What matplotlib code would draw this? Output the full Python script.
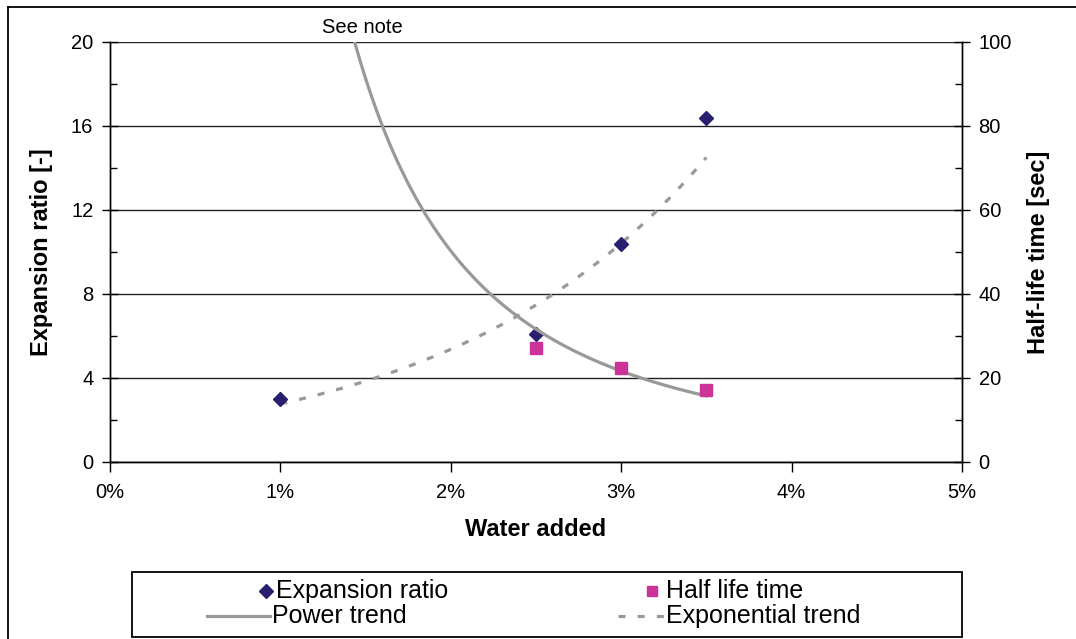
import numpy as np
import matplotlib
matplotlib.use("Agg")
import matplotlib.pyplot as plt
from matplotlib.ticker import PercentFormatter, MultipleLocator
from matplotlib.lines import Line2D
from matplotlib.patches import Rectangle

plt.rcParams['font.family'] = ['Liberation Sans', 'DejaVu Sans']

# water added (fraction) and measured values
water_added = [0.01, 0.025, 0.03, 0.035]
expansion_ratio = [3.0, 6.1, 10.4, 16.4]
# half-life at 1% is off the scale (see note), it is still used in the power trend
half_life = [220.0, 27.1, 22.4, 17.1]

x = np.array(water_added)
er = np.array(expansion_ratio)
hl = np.array(half_life)

# trend lines, same kind as the spreadsheet ones
b_exp, a_exp = np.polyfit(x, np.log(er), 1)
b_pow, a_pow = np.polyfit(np.log(x), np.log(hl), 1)
xt = np.linspace(x.min(), x.max(), 200)
exp_trend = np.exp(a_exp) * np.exp(b_exp * xt)
pow_trend = np.exp(a_pow) * xt ** b_pow

diamond_color = '#28206E'
square_color = '#CC3399'
trend_color = '#999999'
dash_style = (0, (2.2, 3.8))

fig = plt.figure(figsize=(10.76, 6.39), dpi=100)
ax = fig.add_axes([0.1022, 0.277, 0.7918, 0.6573])
ax2 = ax.twinx()

ax.set_xlim(0, 0.05)
ax.set_ylim(0, 20)
ax2.set_ylim(0, 100)

ax.yaxis.set_major_locator(MultipleLocator(4))
ax.yaxis.set_minor_locator(MultipleLocator(2))
ax2.yaxis.set_major_locator(MultipleLocator(20))
ax2.yaxis.set_minor_locator(MultipleLocator(10))
ax.xaxis.set_major_locator(MultipleLocator(0.01))
ax.xaxis.set_major_formatter(PercentFormatter(xmax=1, decimals=0))

ax.grid(axis='y', which='major', color='#222222', lw=1.0)
ax.set_axisbelow(True)
for a in (ax, ax2):
    a.spines['top'].set_visible(False)
    for s in ('left', 'right', 'bottom'):
        a.spines[s].set_color('black')
        a.spines[s].set_linewidth(1.0)
ax.tick_params(axis='y', which='major', direction='inout', length=12, width=1, labelsize=14.5, pad=6)
ax.tick_params(axis='y', which='minor', direction='in', length=5, width=1)
ax.tick_params(axis='x', which='major', direction='out', length=7, width=1, labelsize=14.5, pad=8)
ax2.tick_params(axis='y', which='major', direction='inout', length=12, width=1, labelsize=14.5, pad=6)
ax2.tick_params(axis='y', which='minor', direction='in', length=5, width=1)

# trend lines
ax.plot(xt, exp_trend, color=trend_color, lw=2.3, ls=dash_style, zorder=2)
ax2.plot(xt, pow_trend, color=trend_color, lw=2.3, ls='-', zorder=2)

# measured points
ax.plot(x, er, ls='none', marker='D', ms=7.5, color=diamond_color, zorder=4)
ax2.plot(x, hl, ls='none', marker='s', ms=8, color=square_color, zorder=4)

ax.set_xlabel('Water added', fontsize=17, fontweight='bold', labelpad=12)
ax.set_ylabel('Expansion ratio [-]', fontsize=17, fontweight='bold', labelpad=13)
ax2.set_ylabel('Half-life time [sec]', fontsize=17, fontweight='bold', rotation=90, labelpad=11)

ax2.text(0.0148, 1.012, 'See note', transform=ax2.get_xaxis_transform(),
         ha='center', va='bottom', fontsize=14.5, clip_on=False)

# legend, laid out by hand like the spreadsheet one
W, H = 1076.0, 639.0
tf = fig.transFigure
fig.add_artist(Rectangle((132 / W, 1 - 637 / H), (962 - 132) / W, (637 - 572) / H,
                         transform=tf, fill=False, edgecolor='black', lw=1.3))
leg_font = dict(fontsize=18, va='center', ha='left')
row1, row2 = 1 - 591 / H, 1 - 616 / H
fig.add_artist(Line2D([266 / W], [row1], transform=tf, ls='none', marker='D', ms=7, color=diamond_color))
fig.text(276 / W, row1, 'Expansion ratio', **leg_font)
fig.add_artist(Line2D([207 / W, 270 / W], [row2, row2], transform=tf, color=trend_color, lw=2.3))
fig.text(272 / W, row2, 'Power trend', **leg_font)
fig.add_artist(Line2D([652 / W], [row1], transform=tf, ls='none', marker='s', ms=7, color=square_color))
fig.text(666 / W, row1, 'Half life time', **leg_font)
fig.add_artist(Line2D([618 / W, 665 / W], [row2, row2], transform=tf, color=trend_color, lw=2.3, ls=dash_style))
fig.text(666 / W, row2, 'Exponential trend', **leg_font)

# outer chart border (only the top and left edges are in the picture)
fig.add_artist(Line2D([8 / W, 1.0], [1 - 7 / H, 1 - 7 / H], transform=tf, color='black', lw=1.3))
fig.add_artist(Line2D([8 / W, 8 / W], [0.0, 1 - 7 / H], transform=tf, color='black', lw=1.3))

fig.savefig('out.png', dpi=100)
